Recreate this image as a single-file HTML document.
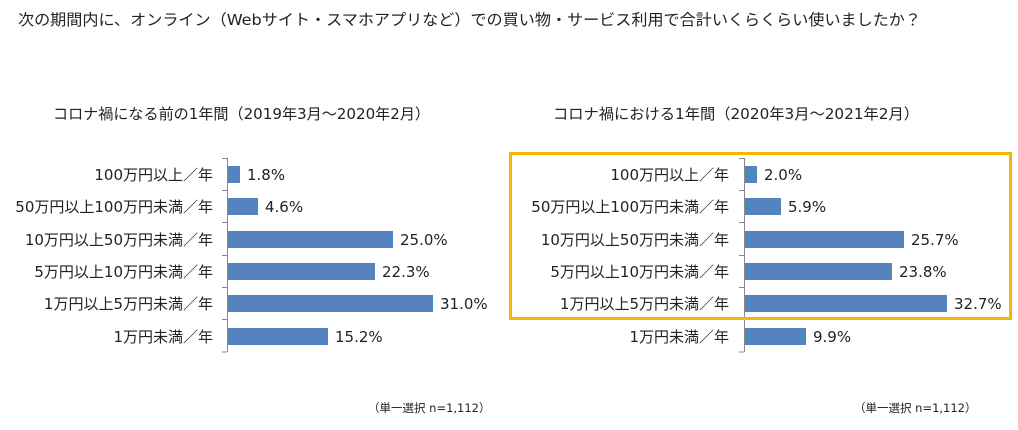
<!DOCTYPE html><html><head><meta charset="utf-8"><style>body{margin:0;background:#fff}svg{display:block}text{font-family:"DejaVu Sans","Noto Sans CJK JP",sans-serif;fill:#222}</style></head><body>
<svg width="1018" height="430" xmlns="http://www.w3.org/2000/svg">
<text x="18" y="25" font-size="15.5" textLength="903" lengthAdjust="spacingAndGlyphs">次の期間内に、オンライン（Webサイト・スマホアプリなど）での買い物・サービス利用で合計いくらくらい使いましたか？</text>
<text x="53" y="119" font-size="15" textLength="377" lengthAdjust="spacingAndGlyphs">コロナ禍になる前の1年間（2019年3月～2020年2月）</text>
<text x="553" y="119" font-size="15" textLength="366" lengthAdjust="spacingAndGlyphs">コロナ禍における1年間（2020年3月～2021年2月）</text>
<g stroke="#888" stroke-width="1">
<line x1="227.5" y1="158" x2="227.5" y2="352"/>
<line x1="222" y1="158.5" x2="227" y2="158.5"/><line x1="222" y1="190.5" x2="227" y2="190.5"/><line x1="222" y1="222.5" x2="227" y2="222.5"/><line x1="222" y1="255.5" x2="227" y2="255.5"/><line x1="222" y1="287.5" x2="227" y2="287.5"/><line x1="222" y1="319.5" x2="227" y2="319.5"/><line x1="222" y1="352" x2="227" y2="352"/>
<line x1="744.5" y1="158" x2="744.5" y2="352"/>
<line x1="739" y1="158.5" x2="744" y2="158.5"/><line x1="739" y1="190.5" x2="744" y2="190.5"/><line x1="739" y1="222.5" x2="744" y2="222.5"/><line x1="739" y1="255.5" x2="744" y2="255.5"/><line x1="739" y1="287.5" x2="744" y2="287.5"/><line x1="739" y1="319.5" x2="744" y2="319.5"/><line x1="739" y1="352" x2="744" y2="352"/>
</g>
<g fill="#5583c0">
<rect x="228" y="166" width="12" height="17"/><rect x="228" y="198" width="30" height="17"/><rect x="228" y="231" width="165" height="17"/><rect x="228" y="263" width="147" height="17"/><rect x="228" y="295" width="205" height="17"/><rect x="228" y="328" width="100" height="17"/>
<rect x="745" y="166" width="12" height="17"/><rect x="745" y="198" width="36" height="17"/><rect x="745" y="231" width="159" height="17"/><rect x="745" y="263" width="147" height="17"/><rect x="745" y="295" width="202" height="17"/><rect x="745" y="328" width="61" height="17"/>
</g>
<g font-size="15" text-anchor="end">
<text x="213" y="180">100万円以上／年</text><text x="213" y="212">50万円以上100万円未満／年</text><text x="213" y="245">10万円以上50万円未満／年</text><text x="213" y="277">5万円以上10万円未満／年</text><text x="213" y="309">1万円以上5万円未満／年</text><text x="213" y="342">1万円未満／年</text>
<text x="729" y="180">100万円以上／年</text><text x="729" y="212">50万円以上100万円未満／年</text><text x="729" y="245">10万円以上50万円未満／年</text><text x="729" y="277">5万円以上10万円未満／年</text><text x="729" y="309">1万円以上5万円未満／年</text><text x="729" y="342">1万円未満／年</text>
</g>
<g font-size="15">
<text x="247" y="180">1.8%</text><text x="265" y="212">4.6%</text><text x="400" y="245">25.0%</text><text x="382" y="277">22.3%</text><text x="440" y="309">31.0%</text><text x="335" y="342">15.2%</text>
<text x="764" y="180">2.0%</text><text x="788" y="212">5.9%</text><text x="911" y="245">25.7%</text><text x="899" y="277">23.8%</text><text x="954" y="309">32.7%</text><text x="813" y="342">9.9%</text>
</g>
<text x="368" y="412" font-size="11.5">（単一選択 n=1,112）</text>
<text x="854" y="412" font-size="11.5">（単一選択 n=1,112）</text>
<rect x="510.5" y="153.5" width="500" height="165" fill="none" stroke="#f5b800" stroke-width="3"/>
</svg></body></html>
